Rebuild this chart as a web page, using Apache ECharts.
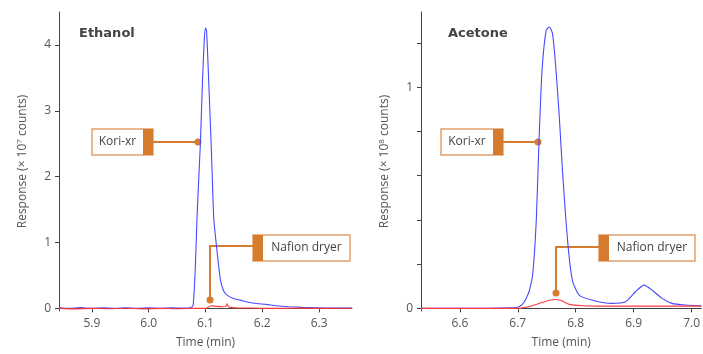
<!DOCTYPE html>
<html>
<head>
<meta charset="utf-8">
<script src="https://cdn.jsdelivr.net/npm/echarts@6/dist/echarts.min.js"></script>
<style>
  html, body { margin: 0; padding: 0; background: #fff; }
  #chart { width: 703px; height: 354px; }
</style>
</head>
<body>
<div id="chart"></div>
<script>
// Ethanol (x 10^7 counts)
const ethBlueTime = [5.842, 5.86, 5.88, 5.90, 5.92, 5.94, 5.96, 5.98, 6.00, 6.02, 6.04, 6.06, 6.072, 6.078, 6.082, 6.085, 6.088, 6.091, 6.095, 6.098, 6.100, 6.102, 6.106, 6.1105, 6.1146, 6.1205, 6.126, 6.1316, 6.138, 6.149, 6.161, 6.178, 6.19, 6.207, 6.225, 6.247, 6.27, 6.294, 6.32, 6.358]
const ethBlueValue = [0.01, 0.0, 0.012, 0.0, 0.008, 0.0, 0.01, 0.002, 0.01, 0.0, 0.008, 0.005, 0.01, 0.04, 0.6, 1.36, 1.95, 2.51, 3.52, 4.1, 4.26, 4.2, 3.37, 2.37, 1.36, 0.855, 0.45, 0.27, 0.2, 0.15, 0.125, 0.09, 0.075, 0.06, 0.04, 0.025, 0.015, 0.01, 0.005, 0.005]
const ethRedTime = [5.842, 5.87, 5.90, 5.93, 5.96, 5.99, 6.02, 6.05, 6.08, 6.10, 6.105, 6.11, 6.12, 6.13, 6.136, 6.138, 6.141, 6.15, 6.18, 6.22, 6.26, 6.30, 6.358]
const ethRedValue = [0.0, -0.008, 0.0, -0.006, 0.002, -0.008, 0.0, -0.006, 0.0, 0.0, 0.02, 0.04, 0.03, 0.025, 0.03, 0.07, 0.02, 0.01, 0.005, 0.0, 0.004, 0.0, 0.002]

// Acetone (x 10^8 counts)
const aceBlueTime = [6.533, 6.60, 6.65, 6.69, 6.70, 6.705, 6.71, 6.7145, 6.72, 6.726, 6.732, 6.737, 6.742, 6.749, 6.7545, 6.760, 6.766, 6.772, 6.777, 6.783, 6.789, 6.795, 6.806, 6.829, 6.863, 6.886, 6.903, 6.918, 6.932, 6.949, 6.966, 6.989, 7.017]
const aceBlueValue = [0.0, 0.0, 0.0, 0.002, 0.005, 0.012, 0.025, 0.045, 0.08, 0.16, 0.4, 0.78, 1.08, 1.257, 1.272, 1.242, 1.078, 0.853, 0.63, 0.404, 0.225, 0.12, 0.06, 0.037, 0.0225, 0.03, 0.075, 0.105, 0.082, 0.045, 0.0225, 0.015, 0.012]
const aceRedTime = [6.533, 6.70, 6.72, 6.74, 6.755, 6.765, 6.775, 6.789, 6.812, 6.85, 6.90, 6.95, 7.017]
const aceRedValue = [0.0, 0.0, 0.008, 0.025, 0.037, 0.04, 0.035, 0.018, 0.012, 0.01, 0.01, 0.01, 0.01]

// ticks
const ethTimeTicks = [5.9, 6.0, 6.1, 6.2, 6.3]
const ethRespTicks = [0, 1, 2, 3, 4]
const aceTimeTicks = [6.6, 6.7, 6.8, 6.9, 7.0]
const aceRespTicks = [0, 0.2, 0.4, 0.6, 0.8, 1.0, 1.2]
const aceRespLabels = [0, 1]

const orange = '#D67C2F'
const boxLine = '#E3A06A'
const blue = '#4848ff'
const red = '#ff3838'
const font = "'Open Sans', 'DejaVu Sans', sans-serif"
const titleFont = "'DejaVu Sans', sans-serif"

const pairs = (t, v) => t.map((x, i) => [x, v[i]])

const xAxisBase = (grid, min, max, ticks) => ({
  type: 'value', gridIndex: grid, min: min, max: max,
  name: 'Time (min)', nameLocation: 'middle', nameGap: 26,
  nameTextStyle: { color: '#555', fontSize: 12, fontFamily: font },
  axisLine: { lineStyle: { color: '#444' } },
  axisTick: { customValues: ticks, length: 4, lineStyle: { color: '#444' } },
  axisLabel: { customValues: ticks, color: '#555', fontSize: 12, fontFamily: font, margin: 7,
    formatter: v => v.toFixed(1) },
  splitLine: { show: false }
})

const yAxisBase = (grid, min, max, ticks, labels, exp) => ({
  type: 'value', gridIndex: grid, min: min, max: max,
  name: 'Response (× 10{s|' + exp + '} counts)', nameLocation: 'middle', nameGap: 30,
  nameTextStyle: { color: '#555', fontSize: 12, fontFamily: font,
    rich: { s: { fontSize: 8, verticalAlign: 'top', color: '#555', fontFamily: font, padding: [0, 0, 5, 0] } } },
  axisLine: { show: true, lineStyle: { color: '#444' } },
  axisTick: { show: true, customValues: ticks, length: 4, lineStyle: { color: '#444' } },
  axisLabel: { customValues: labels, color: '#555', fontSize: 12, fontFamily: font, margin: 8 },
  splitLine: { show: false }
})

const lineSeries = (xi, data, color) => ({
  type: 'line', xAxisIndex: xi, yAxisIndex: xi, data: data,
  showSymbol: false, smooth: 0.2, silent: true,
  lineStyle: { color: color, width: 1.1 }
})

// callout boxes (pixel layout)
function callout(box, text, stripRight, path) {
  const strip = stripRight ? box[0] + box[2] - 10 : box[0]
  const tx = stripRight ? box[0] + (box[2] - 10) / 2 : box[0] + 10 + (box[2] - 10) / 2
  const end = path[path.length - 1]
  return [
    { type: 'rect', shape: { x: box[0], y: box[1], width: box[2], height: box[3] },
      style: { fill: '#fff', stroke: boxLine, lineWidth: 1.5 } },
    { type: 'rect', shape: { x: strip, y: box[1], width: 10, height: box[3] },
      style: { fill: orange } },
    { type: 'text', x: tx, y: box[1] + box[3] / 2,
      style: { text: text, fill: '#444', font: '12px ' + font, align: 'center', verticalAlign: 'middle' } },
    { type: 'polyline', shape: { points: path }, style: { stroke: orange, lineWidth: 2, fill: null } },
    { type: 'circle', shape: { cx: end[0], cy: end[1], r: 3.5 }, style: { fill: orange } }
  ]
}

const chart = echarts.init(document.getElementById('chart'))
chart.setOption({
  animation: false,
  backgroundColor: '#fff',
  title: [
    { text: 'Ethanol', left: 79, top: 27, padding: 0, textStyle: { fontSize: 13, fontWeight: 'bold', color: '#444', fontFamily: titleFont } },
    { text: 'Acetone', left: 448, top: 27, padding: 0, textStyle: { fontSize: 13, fontWeight: 'bold', color: '#444', fontFamily: titleFont } }
  ],
  grid: [
    { left: 59, right: 351, top: 12, bottom: 42 },
    { left: 421, right: 0, top: 12, bottom: 42 }
  ],
  xAxis: [
    xAxisBase(0, 5.842, 6.358, ethTimeTicks),
    xAxisBase(1, 6.533, 7.017, aceTimeTicks)
  ],
  yAxis: [
    yAxisBase(0, -0.04, 4.5, ethRespTicks, ethRespTicks, '7'),
    yAxisBase(1, -0.012, 1.34, aceRespTicks, aceRespLabels, '8')
  ],
  series: [
    lineSeries(0, pairs(ethBlueTime, ethBlueValue), blue),
    lineSeries(0, pairs(ethRedTime, ethRedValue), red),
    lineSeries(1, pairs(aceBlueTime, aceBlueValue), blue),
    lineSeries(1, pairs(aceRedTime, aceRedValue), red)
  ],
  graphic: [].concat(
    callout([92, 129, 61, 26], 'Kori-xr', true, [[153, 142], [198, 142]]),
    callout([253, 235, 97, 26], 'Nafion dryer', false, [[253, 246], [210, 246], [210, 300]]),
    callout([441, 129, 62, 26], 'Kori-xr', true, [[503, 142], [538, 142]]),
    callout([599, 235, 96, 26], 'Nafion dryer', false, [[599, 247], [556, 247], [556, 293]])
  )
})
</script>
</body>
</html>
